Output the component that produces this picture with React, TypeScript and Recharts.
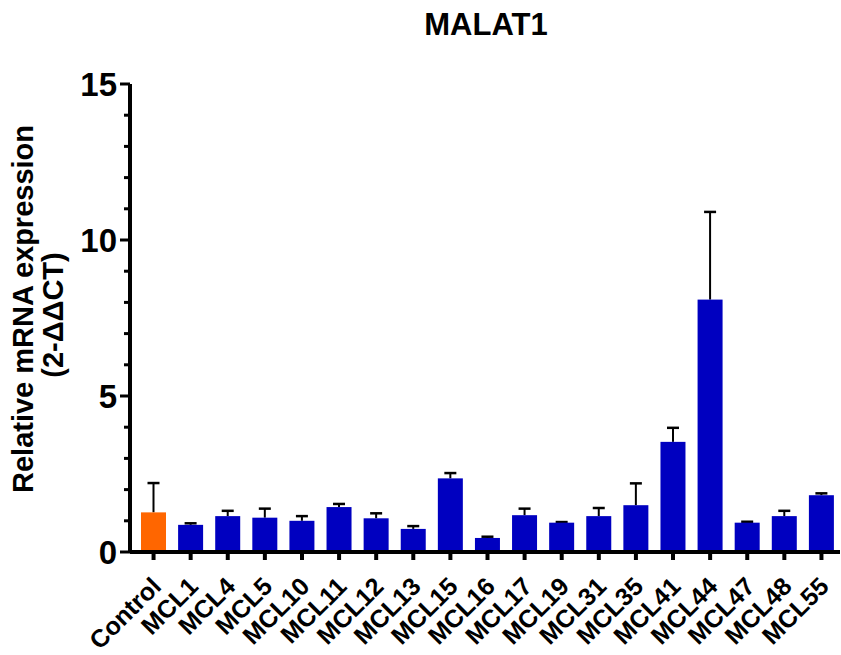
import React from 'react'
import { BarChart, Bar, XAxis, YAxis } from 'recharts'

// samples and mean relative expression (2^-ddCT)
const samples = ['Control', 'MCL1', 'MCL4', 'MCL5', 'MCL10', 'MCL11', 'MCL12', 'MCL13', 'MCL15', 'MCL16', 'MCL17', 'MCL19', 'MCL31', 'MCL35', 'MCL41', 'MCL44', 'MCL47', 'MCL48', 'MCL55']
const means = [1.27, 0.87, 1.15, 1.1, 1.0, 1.44, 1.08, 0.74, 2.36, 0.45, 1.18, 0.94, 1.15, 1.5, 3.53, 8.09, 0.94, 1.15, 1.82]
// upper error (SD) above the mean
const errors = [0.94, 0.05, 0.17, 0.29, 0.15, 0.1, 0.16, 0.09, 0.17, 0.04, 0.21, 0.02, 0.26, 0.7, 0.45, 2.81, 0.03, 0.17, 0.06]
const yTicks = [0, 1, 2, 3, 4, 5, 6, 7, 8, 9, 10, 11, 12, 13, 14, 15]
const yLabels = [0, 5, 10, 15]

const FONT = '"Liberation Sans", Arial, Helvetica, sans-serif'
const BLUE = '#0000C0'
const ORANGE = '#FF6600'

const data = samples.map((name, i) => ({ name, value: means[i], err: errors[i] }))

function BarWithError(props: any) {
  const { x, y, width, height, payload } = props
  const fill = payload.name === 'Control' ? ORANGE : BLUE
  const pxPerUnit = height / payload.value
  const top = y - payload.err * pxPerUnit
  const cx = x + width / 2
  return (
    <g>
      <line x1={cx} x2={cx} y1={y} y2={top} stroke="#000" strokeWidth={2} />
      <line x1={cx - 6} x2={cx + 6} y1={top} y2={top} stroke="#000" strokeWidth={2.5} />
      <rect x={x} y={y} width={width} height={height} fill={fill} />
    </g>
  )
}

function YTick(props: any) {
  const { x, y, payload } = props
  const major = yLabels.includes(payload.value)
  return (
    <g>
      <line x1={x} x2={x - (major ? 10 : 6)} y1={y} y2={y} stroke="#000" strokeWidth={3} />
      {major && (
        <text x={x - 13} y={y} dy="0.36em" textAnchor="end" fontFamily={FONT} fontWeight="bold" fontSize={33} fill="#000">
          {payload.value}
        </text>
      )}
    </g>
  )
}

function XTick(props: any) {
  const { x, y, payload } = props
  const ax = x + 9
  const ay = y + 26
  return (
    <text x={ax} y={ay} transform={`rotate(-45, ${ax}, ${ay})`} textAnchor="end" fontFamily={FONT} fontWeight="bold" fontSize={25} fill="#000">
      {payload.value}
    </text>
  )
}

function YAxisTitle() {
  return (
    <g fontFamily={FONT} fontWeight="bold" fontSize={29} fill="#000">
      <text x={33} y={309} transform="rotate(-90, 33, 309)" textAnchor="middle">Relative mRNA expression</text>
      <text x={63} y={315} transform="rotate(-90, 63, 315)" textAnchor="middle">(2-ΔΔCT)</text>
    </g>
  )
}

export default function App() {
  return (
    <div style={{ position: 'absolute', left: 0, top: 0, width: 841, height: 655, background: '#fff' }}>
      <div style={{ position: 'absolute', left: 0, top: 7, width: 972, textAlign: 'center', fontFamily: FONT, fontWeight: 'bold', fontSize: 31, color: '#000' }}>
        MALAT1
      </div>
      <BarChart width={841} height={655} data={data} margin={{ top: 84, right: 1, bottom: 0, left: 0 }} barSize={25}>
        <XAxis
          dataKey="name"
          interval={0}
          height={103}
          padding={{ left: 5, right: 0 }}
          axisLine={{ stroke: '#000', strokeWidth: 4 }}
          tickLine={{ stroke: '#000', strokeWidth: 4 }}
          tickSize={8}
          tick={<XTick />}
        />
        <YAxis
          width={130}
          domain={[0, 15]}
          ticks={yTicks}
          interval={0}
          axisLine={{ stroke: '#000', strokeWidth: 4 }}
          tickLine={false}
          tickSize={0}
          tickMargin={0}
          tick={<YTick />}
          label={{ content: () => <YAxisTitle /> }}
        />
        <Bar dataKey="value" shape={<BarWithError />} isAnimationActive={false} />
      </BarChart>
    </div>
  )
}
